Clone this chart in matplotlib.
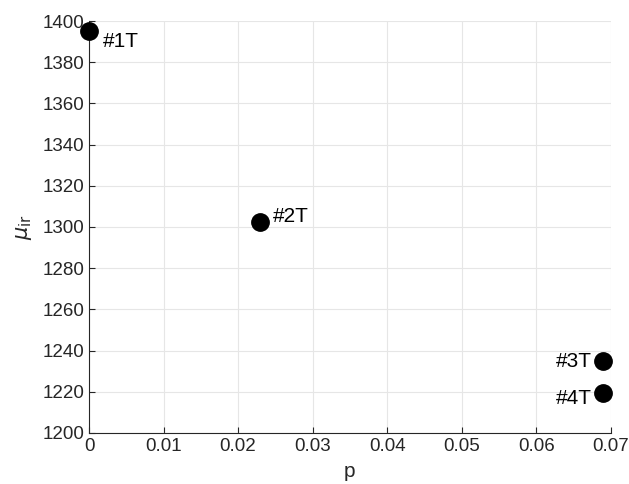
import matplotlib
matplotlib.use('Agg')
import matplotlib.pyplot as plt

# données
p = [0.0, 0.023, 0.069, 0.069]
mu_ir = [1395, 1302.5, 1234.8, 1219.4]
labels = ['#1T', '#2T', '#3T', '#4T']
offsets = [(10, -7), (9, 3.5), (-8, 0), (-8, -4)]
aligns = ['left', 'left', 'right', 'right']

plt.rcParams['font.family'] = ['Liberation Sans', 'DejaVu Sans']

fig = plt.figure(figsize=(6.29, 4.84), dpi=100)
ax = fig.add_axes([0.1415, 0.1054, 0.8295, 0.8512])

ax.plot(p, mu_ir, 'o', color='black', markersize=12.5, clip_on=False, zorder=5)
for x, y, lab, off, ha in zip(p, mu_ir, labels, offsets, aligns):
    ax.annotate(lab, xy=(x, y), xytext=off, textcoords='offset points',
                ha=ha, va='center', fontsize=15, color='black')

ax.set_xlim(0, 0.07)
ax.set_ylim(1200, 1400)
ax.set_xticks([0, 0.01, 0.02, 0.03, 0.04, 0.05, 0.06, 0.07])
ax.set_xticklabels(['0', '0.01', '0.02', '0.03', '0.04', '0.05', '0.06', '0.07'])
ax.set_yticks(range(1200, 1401, 20))

ax.grid(True, color='#e6e6e6', linewidth=0.8)
ax.set_axisbelow(True)
for s in ['top', 'right']:
    ax.spines[s].set_visible(False)
for s in ['left', 'bottom']:
    ax.spines[s].set_color('#262626')
    ax.spines[s].set_linewidth(0.8)
ax.tick_params(direction='in', length=4, colors='#262626', labelsize=13.5, width=0.8)

ax.set_xlabel('p', fontsize=15, color='#262626', labelpad=5)
ax.set_ylabel(r'$\mu_{\rm ir}$', fontsize=15, color='#262626', labelpad=6)

fig.savefig('out.png', dpi=100)
